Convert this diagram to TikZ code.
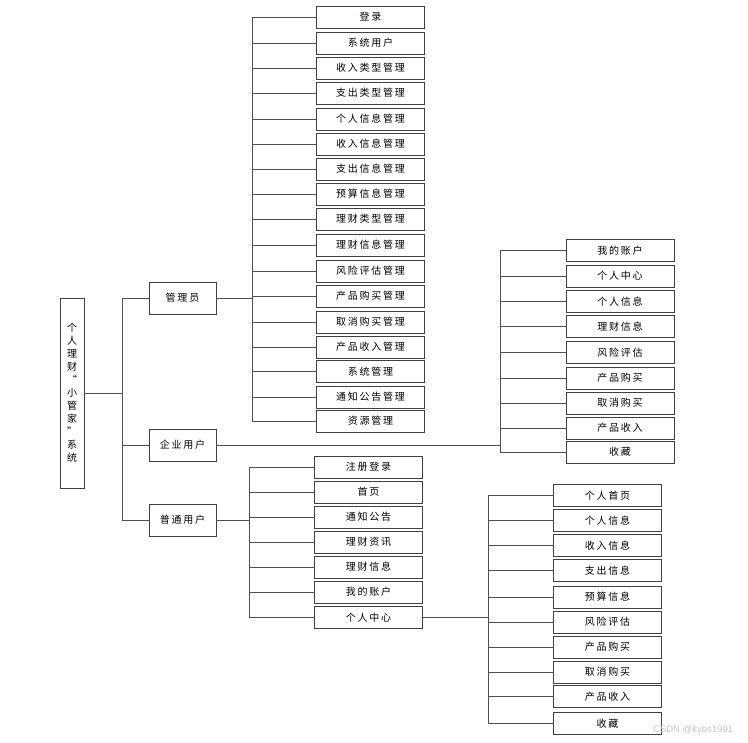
\documentclass[tikz,border=0pt]{standalone}
\usepackage{fontspec}
\newfontfamily\cjk[LetterSpace=18]{Noto Sans CJK SC}
\newfontfamily\cjkv{Noto Sans CJK SC}
\setmainfont{Liberation Sans}
\definecolor{lineC}{HTML}{505050}
\definecolor{boxC}{HTML}{404040}
\tikzset{
  every node/.style={inner sep=0pt, outer sep=0pt},
  box/.style={draw=boxC, line width=0.9pt, fill=white, rectangle, minimum height=22pt,
              font=\cjk\fontsize{10}{12}\selectfont, text=black},
  lvl/.style={box, minimum width=67pt, minimum height=32pt},
  conn/.style={draw=lineC, line width=0.9pt},
}
\begin{document}
\begin{tikzpicture}[x=1pt,y=-1pt]
\useasboundingbox (0,0) rectangle (748,743);
\fill[white] (0,0) rectangle (748,743);

% trunk coordinates
\coordinate (t0) at (122,0);
\coordinate (tA) at (252.7,0);
\coordinate (tE) at (500.7,0);
\coordinate (tN) at (249,0);
\coordinate (tP) at (488,0);

% root
\node[box, minimum width=24pt, minimum height=190pt, align=center,
      font=\cjkv\fontsize{10}{13}\selectfont] (root) at (72,393)
  {个\\人\\理\\财\\“\\小\\管\\家\\”\\系\\统};

% level 1
\node[lvl] (adm) at (182.5,298) {管理员};
\node[lvl] (ent) at (182.5,445) {企业用户};
\node[lvl] (usr) at (182.5,520) {普通用户};

\foreach \c in {adm,ent,usr}
  \draw[conn] (root.east) -- (root.east -| t0) |- (\c.west);

% admin children
\foreach \y/\t [count=\i] in {17/登录,43/系统用户,68/收入类型管理,93/支出类型管理,
  119/个人信息管理,144/收入信息管理,169/支出信息管理,194/预算信息管理,
  219/理财类型管理,245/理财信息管理,271/风险评估管理,296/产品购买管理,
  322/取消购买管理,347/产品收入管理,371.5/系统管理,397/通知公告管理,421/资源管理}{
  \node[box, minimum width=108pt] (a\i) at (370.5,\y) {\t};
  \draw[conn] (adm.east) -- (adm.east -| tA) |- (a\i.west);
}

% enterprise children
\foreach \y/\t [count=\i] in {250.5/我的账户,276/个人中心,301.5/个人信息,326.5/理财信息,
  352.5/风险评估,378/产品购买,403/取消购买,428/产品收入,452/收藏}{
  \node[box, minimum width=108pt] (e\i) at (620,\y) {\t};
  \draw[conn] (ent.east) -- (ent.east -| tE) |- (e\i.west);
}

% normal user children
\foreach \y/\t [count=\i] in {467/注册登录,492/首页,517/通知公告,542/理财资讯,
  567/理财信息,592/我的账户,617.5/个人中心}{
  \node[box, minimum width=108pt] (n\i) at (368.5,\y) {\t};
  \draw[conn] (usr.east) -- (usr.east -| tN) |- (n\i.west);
}

% personal center children
\foreach \y/\t [count=\i] in {495.5/个人首页,520.5/个人信息,545.5/收入信息,570.5/支出信息,
  597/预算信息,622/风险评估,647/产品购买,672/取消购买,696.5/产品收入,723.5/收藏}{
  \node[box, minimum width=108pt] (p\i) at (607.5,\y) {\t};
  \draw[conn] (n7.east) -- (n7.east -| tP) |- (p\i.west);
}

% watermark
\node[text=black!22, font=\fontsize{9.5}{11}\selectfont, anchor=east] (wm) at (733,730) {CSDN @kybs1991};
\end{tikzpicture}
\end{document}
